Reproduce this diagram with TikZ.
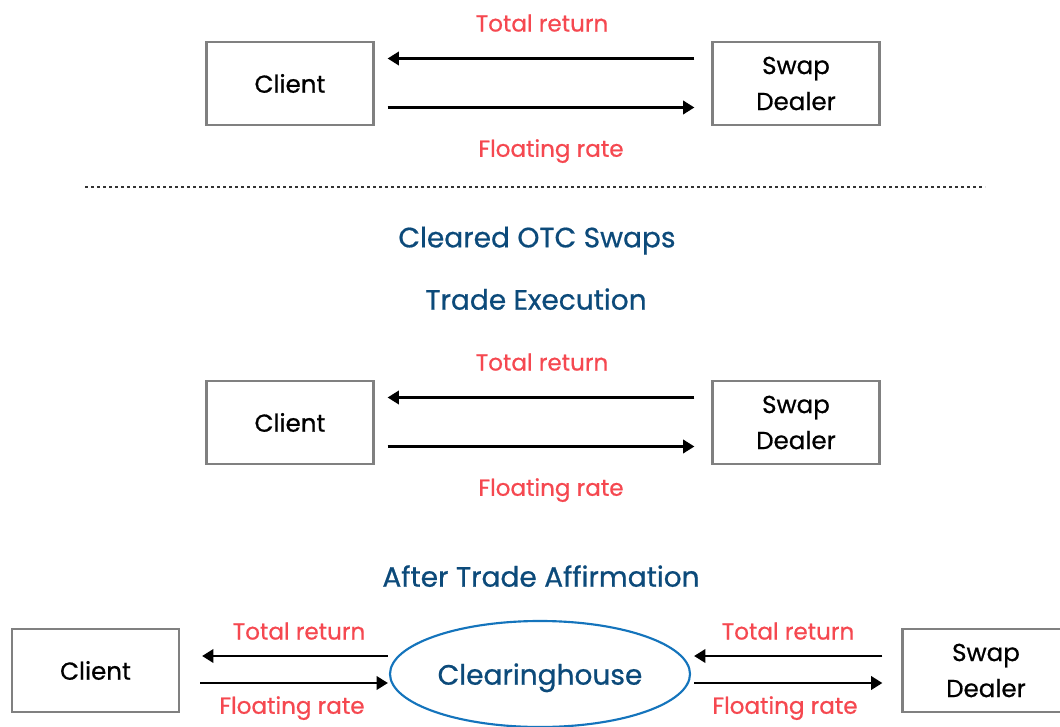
\documentclass[tikz,border=0pt]{standalone}
\usepackage{fontspec}
\setmainfont{Poppins}[FakeBold=0.7]
\usetikzlibrary{arrows.meta,shapes.geometric,calc}

\definecolor{payred}{RGB}{245,72,80}
\definecolor{headblue}{RGB}{12,74,122}
\definecolor{ringblue}{RGB}{20,116,188}
\definecolor{boxgray}{RGB}{128,128,128}

\tikzset{every picture/.style={line width=0.75pt}}
\tikzset{
  party/.style={draw=boxgray, line width=1.9pt, fill=white, minimum width=125pt, minimum height=62pt,
    align=center, inner sep=0pt, font=\fontsize{18.4}{27}\selectfont},
  house/.style={ellipse, draw=ringblue, line width=1.6pt, fill=white, minimum width=225pt, minimum height=79.5pt,
    inner sep=0pt, text depth=0pt, text=headblue, font=\fontsize{21}{24}\selectfont},
  flow/.style={line width=2pt, -{Triangle[length=8.5pt,width=10pt]}},
  paylbl/.style={text=payred, inner sep=0pt, text depth=0pt, font=\fontsize{17.3}{20}\selectfont},
  heading/.style={text=headblue, inner sep=0pt, text depth=0pt, font=\fontsize{21}{25}\selectfont},
  sepline/.style={line width=1.5pt, dash pattern={on 2.2pt off 2.3pt}, black!80}
}

\begin{document}
\begin{tikzpicture}[x=0.75pt,y=0.75pt,yscale=-1,xscale=1]
\useasboundingbox (0,0) rectangle (1060,727);

%Bilateral swap
\node [party] (client1) at (290,83.5) {Client};
\node [party] (dealer1) at (796,83.5) {Swap\\Dealer};
\node [paylbl] (ret1) at (542,23) {Total return};
\node [paylbl] (flt1) at (551,148) {Floating rate};
%Straight Lines
\draw [flow] ($(dealer1.west)+(-17,-25)$) -- ($(client1.east)+(13,-25)$);
\draw [flow] ($(client1.east)+(13,24)$) -- ($(dealer1.west)+(-17,24)$);

%Separator
\draw [sepline] (85,187) -- (985,187);

\node [heading] (title) at (537,237) {Cleared OTC Swaps};
\node [heading] (stepexec) at (536,299) {Trade Execution};

%Trade execution
\node [party] (client2) at (290,422.5) {Client};
\node [party] (dealer2) at (796,422.5) {Swap\\Dealer};
\node [paylbl] (ret2) at (542,362) {Total return};
\node [paylbl] (flt2) at (551,487) {Floating rate};
%Straight Lines
\draw [flow] ($(dealer2.west)+(-17,-25)$) -- ($(client2.east)+(13,-25)$);
\draw [flow] ($(client2.east)+(13,24)$) -- ($(dealer2.west)+(-17,24)$);

\node [heading] (stepaffirm) at (541,576) {After Trade Affirmation};

%After affirmation
\node [party] (client3) at (95.5,670.5) {Client};
\node [party] (dealer3) at (986,670.5) {Swap\\Dealer};
\node [house] (ccp) at (540,674) {Clearinghouse};
\node [paylbl] (ret3) at (299,631) {Total return};
\node [paylbl] (flt3) at (292,705) {Floating rate};
\node [paylbl] (ret4) at (788,631) {Total return};
\node [paylbl] (flt4) at (785,705) {Floating rate};
%Straight Lines
\draw [flow] ($(ccp.west)+(-1,-18)$) -- ($(client3.east)+(22,-14.5)$);
\draw [flow] ($(client3.east)+(20,12.5)$) -- ($(ccp.west)+(-1,9)$);
\draw [flow] ($(dealer3.west)+(-19,-14.5)$) -- ($(ccp.east)+(3,-18)$);
\draw [flow] ($(ccp.east)+(3,9)$) -- ($(dealer3.west)+(-19,12.5)$);
\end{tikzpicture}
\end{document}
